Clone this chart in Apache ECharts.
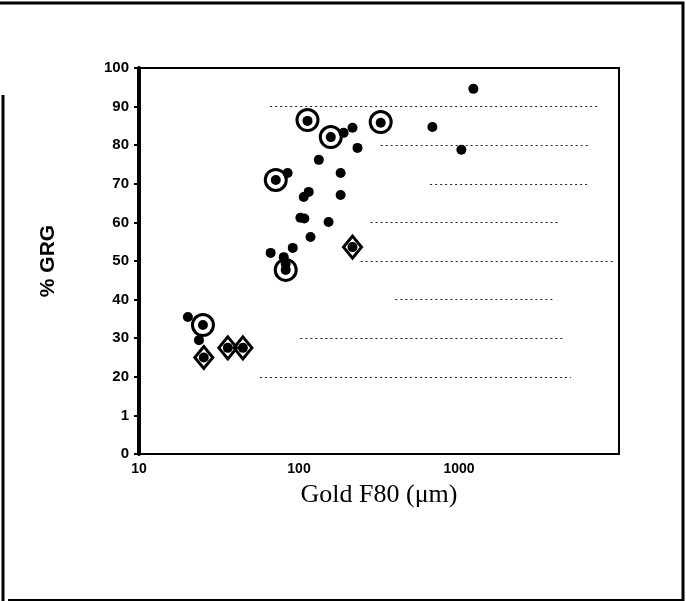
<!DOCTYPE html>
<html lang="en">

<head>
    <meta charset="UTF-8">
    <style>
        html, body { margin: 0; padding: 0; background: #fff; }
        #main { width: 686px; height: 601px; }
    </style>
    <title>Gold F80 vs GRG</title>
</head>

<body>
    <div id="main"></div>
    <script src="https://cdn.jsdelivr.net/npm/echarts@6/dist/echarts.min.js"></script>
    <script>
        // all samples (filled dots), F80 in µm and % GRG
        var dotF80 = [20.2, 23.7, 25.1, 25.4, 35.9, 44.6, 66.5, 80.3, 82.6, 91.4, 82.6,
            71.6, 84.9, 102, 108, 107, 115, 118, 133, 153, 182, 182,
            113, 158, 190, 216, 232, 324, 682, 1035, 1230, 216];
        var dotGRG = [35.5, 29.5, 33.4, 25.0, 27.5, 27.5, 52.1, 51.0, 49.3, 53.4, 47.7,
            71.0, 72.8, 61.2, 61.0, 66.6, 67.9, 56.2, 76.2, 60.1, 72.8, 67.1,
            86.3, 82.1, 83.2, 84.5, 79.3, 85.8, 84.7, 78.8, 94.6, 53.6];
        // circled samples
        var circF80 = [25.1, 71.6, 82.6, 113, 158, 324];
        var circGRG = [33.4, 71.0, 47.7, 86.5, 82.1, 86.0];
        // diamond samples
        var diaF80 = [25.4, 35.9, 44.6, 216];
        var diaGRG = [25.0, 27.5, 27.5, 53.6];
        // dotted reference levels and their extent along x
        var refLevel = [90, 80, 70, 60, 50, 40, 30, 20];
        var refFrom = [66, 324, 660, 280, 243, 400, 102, 57];
        var refTo = [7600, 6600, 6600, 4300, 9500, 4000, 4600, 5000];
        var yTicks = { 10: '1' };

        function pairs(xs, ys) {
            return xs.map(function (x, i) { return [x, ys[i]]; });
        }

        var refLines = refLevel.map(function (v, i) {
            return [{ coord: [refFrom[i], v] }, { coord: [refTo[i], v] }];
        });

        var myChart = echarts.init(document.getElementById('main'));

        var option = {
            animation: false,
            grid: {
                left: 139,
                right: 67,
                top: 68,
                bottom: 147,
                show: true,
                borderColor: '#000',
                borderWidth: 2
            },
            xAxis: {
                type: 'log',
                logBase: 10,
                min: 10,
                max: 10000,
                name: 'Gold F80 (μm)',
                nameLocation: 'middle',
                nameGap: 28,
                nameTextStyle: {
                    fontFamily: 'Liberation Serif',
                    fontSize: 26,
                    color: '#000'
                },
                axisLine: { lineStyle: { color: '#000', width: 2 } },
                axisTick: { show: false },
                splitLine: { show: false },
                axisLabel: {
                    color: '#000',
                    fontWeight: 'bold',
                    fontSize: 14,
                    margin: 8,
                    formatter: function (v) { return v >= 10000 ? '' : v; }
                }
            },
            yAxis: {
                type: 'value',
                min: 0,
                max: 100,
                interval: 10,
                name: '% GRG',
                nameLocation: 'middle',
                nameGap: 80,
                nameTextStyle: {
                    fontFamily: 'Liberation Sans',
                    fontWeight: 'bold',
                    fontSize: 21,
                    color: '#000'
                },
                axisLine: { show: true, lineStyle: { color: '#000', width: 4 } },
                axisTick: { show: true, length: 5, lineStyle: { color: '#000', width: 2 } },
                splitLine: { show: false },
                axisLabel: {
                    color: '#000',
                    fontWeight: 'bold',
                    fontSize: 15,
                    margin: 10,
                    formatter: function (v) { return yTicks[v] !== undefined ? yTicks[v] : v; }
                }
            },
            graphic: [
                { type: 'line', shape: { x1: 0, y1: 3, x2: 684, y2: 3 }, style: { stroke: '#000', lineWidth: 3 } },
                { type: 'line', shape: { x1: 683, y1: 2, x2: 683, y2: 601 }, style: { stroke: '#000', lineWidth: 3 } },
                { type: 'line', shape: { x1: 8, y1: 600, x2: 684, y2: 600 }, style: { stroke: '#000', lineWidth: 2 } },
                { type: 'line', shape: { x1: 3, y1: 95, x2: 3, y2: 601 }, style: { stroke: '#000', lineWidth: 3 } }
            ],
            series: [
                {
                    type: 'scatter',
                    data: pairs(dotF80, dotGRG),
                    symbol: 'circle',
                    symbolSize: 10,
                    itemStyle: { color: '#000', opacity: 1 },
                    markLine: {
                        silent: true,
                        symbol: 'none',
                        label: { show: false },
                        lineStyle: { color: '#222', width: 1, type: [2, 3], opacity: 1 },
                        data: refLines
                    },
                    z: 3
                },
                {
                    type: 'scatter',
                    data: pairs(circF80, circGRG),
                    symbol: 'circle',
                    symbolSize: 21,
                    itemStyle: { color: 'rgba(0,0,0,0)', borderColor: '#000', borderWidth: 3, opacity: 1 },
                    z: 4
                },
                {
                    type: 'scatter',
                    data: pairs(diaF80, diaGRG),
                    symbol: 'diamond',
                    symbolSize: [18, 22],
                    itemStyle: { color: 'rgba(0,0,0,0)', borderColor: '#000', borderWidth: 3, opacity: 1 },
                    z: 4
                }
            ]
        };

        myChart.setOption(option);
    </script>
</body>

</html>
